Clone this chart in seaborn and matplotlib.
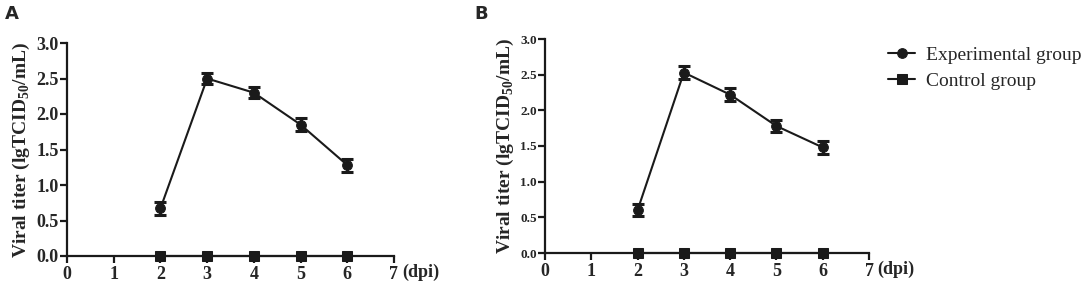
import pandas as pd
import matplotlib.pyplot as plt
import seaborn as sns

# days post infection
dpi = [2, 3, 4, 5, 6]

# panel A
exp_a = [0.67, 2.50, 2.30, 1.85, 1.28]
err_a = [0.09, 0.08, 0.08, 0.09, 0.09]
ctl_a = [0, 0, 0, 0, 0]

# panel B
exp_b = [0.60, 2.53, 2.22, 1.78, 1.48]
err_b = [0.08, 0.09, 0.09, 0.09, 0.09]
ctl_b = [0, 0, 0, 0, 0]

groups = ['Experimental group', 'Control group']
x_ticks = [0, 1, 2, 3, 4, 5, 6, 7]
y_ticks = [0.0, 0.5, 1.0, 1.5, 2.0, 2.5, 3.0]

sns.set_style('ticks')
plt.rcParams['font.family'] = ['Liberation Serif', 'DejaVu Serif']
plt.rcParams['mathtext.fontset'] = 'custom'
plt.rcParams['mathtext.rm'] = 'Liberation Serif:bold'
plt.rcParams['mathtext.bf'] = 'Liberation Serif:bold'

ink = '#1a1a1a'

fig = plt.figure(figsize=(10.84, 2.86), dpi=100)
ax_a = fig.add_axes([67 / 1084, 1 - 256 / 286, (394 - 67) / 1084, (256 - 43) / 286])
ax_b = fig.add_axes([545 / 1084, 1 - 253 / 286, (869 - 545) / 1084, (253 - 39) / 286])


def draw(ax, exp, err, ctl, ytick_size):
    df = pd.DataFrame({
        'dpi': dpi * 2,
        'titer': exp + ctl,
        'group': [groups[0]] * len(dpi) + [groups[1]] * len(dpi),
    })
    sns.lineplot(data=df, x='dpi', y='titer', style='group',
                 markers={groups[0]: 'o', groups[1]: 's'}, dashes=False,
                 color=ink, linewidth=1.5, markersize=7, markeredgecolor=ink,
                 clip_on=False, zorder=4, ax=ax, legend=True)
    ax.errorbar(dpi, exp, yerr=err, fmt='none', ecolor=ink, elinewidth=2.2,
                capsize=4.5, capthick=2.2, zorder=3, clip_on=False)

    ax.set_xlim(0, 7)
    ax.set_ylim(0, 3)
    ax.set_xticks(x_ticks)
    ax.set_yticks(y_ticks)
    ax.set_yticklabels([f'{v:.1f}' for v in y_ticks])
    for s in ['top', 'right']:
        ax.spines[s].set_visible(False)
    for s in ['left', 'bottom']:
        ax.spines[s].set_linewidth(1.6)
        ax.spines[s].set_color(ink)
    ax.tick_params(axis='both', length=5, width=1.6, color=ink, direction='out')
    ax.tick_params(axis='x', labelsize=13, pad=2)
    ax.tick_params(axis='y', labelsize=ytick_size, pad=1)
    for lab in ax.get_xticklabels() + ax.get_yticklabels():
        lab.set_fontweight('bold')
    ax.set_xlabel('')
    ax.set_ylabel(r'Viral titer (lgTCID$_{50}$/mL)', fontsize=14, fontweight='bold', labelpad=3)
    ax.annotate('(dpi)', xy=(7, 0), xycoords='data', xytext=(6, -5.5),
                textcoords='offset points', ha='left', va='top',
                fontsize=13, fontweight='bold', annotation_clip=False)


draw(ax_a, exp_a, err_a, ctl_a, 13)
draw(ax_b, exp_b, err_b, ctl_b, 9.5)

handles, labels = ax_b.get_legend_handles_labels()
ax_a.get_legend().remove()
ax_b.get_legend().remove()
fig.legend(handles, labels, loc='upper left', bbox_to_anchor=(888 / 1084, 1 - 46 / 286),
           frameon=False, fontsize=14, handlelength=1.4, handletextpad=0.55,
           labelspacing=0.45, borderpad=0, borderaxespad=0)

fig.text(5 / 1084, 1 - 5 / 286, 'A', fontsize=13, fontweight='bold',
         family='DejaVu Sans', ha='left', va='top')
fig.text(474 / 1084, 1 - 5 / 286, 'B', fontsize=13, fontweight='bold',
         family='DejaVu Sans', ha='left', va='top')

fig.savefig('out.png', dpi=100)
